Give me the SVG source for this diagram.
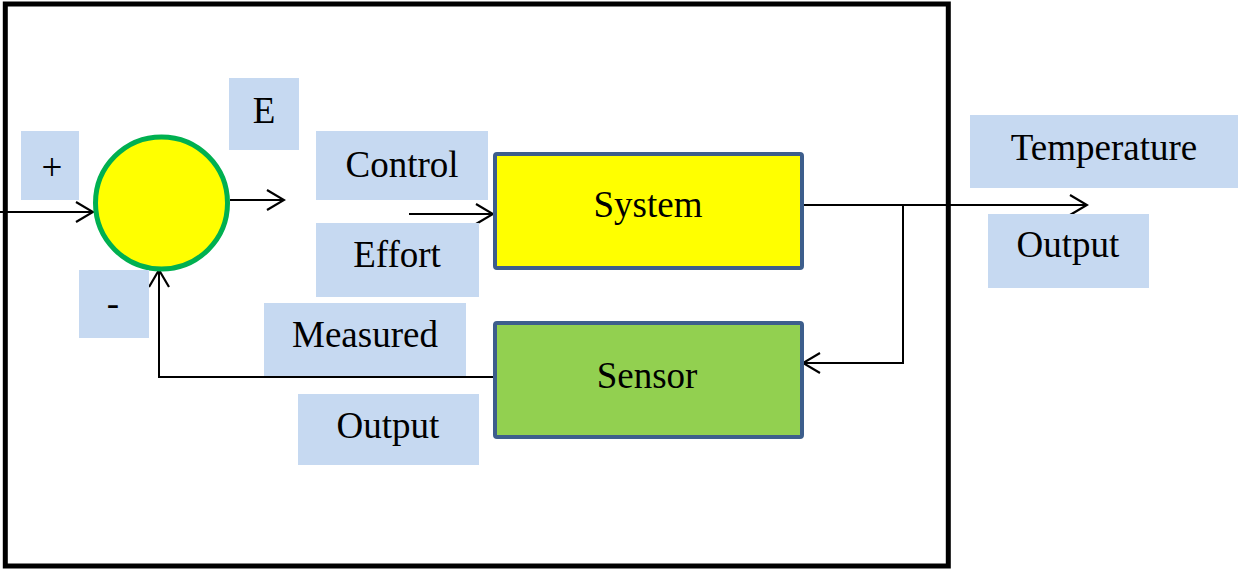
<svg xmlns="http://www.w3.org/2000/svg" width="1238" height="569" viewBox="0 0 1238 569">
  <style>
    .lbl { fill: #C6D9F1; }
    .txt { font-family: "Liberation Serif", "Times New Roman", serif; font-size: 37px; fill: #000; text-anchor: middle; }
    .block { stroke: #3D5E8C; stroke-width: 4; }
    .wire { fill: none; stroke: #000; stroke-width: 2; }
  </style>
  <defs>
    <marker id="arrow" viewBox="0 0 20 22" refX="18" refY="11" markerWidth="20" markerHeight="22" markerUnits="userSpaceOnUse" orient="auto">
      <path d="M1,1 L18,11 L1,21" fill="none" stroke="#000" stroke-width="2.2"/>
    </marker>
  </defs>

  <rect width="1238" height="569" fill="#fff"/>

  <!-- outer frame -->
  <rect id="frame" x="5.3" y="4" width="943" height="562" fill="none" stroke="#000" stroke-width="5"/>

  <!-- connectors -->
  <g id="connectors" class="wire">
    <line x1="0" y1="212" x2="93" y2="212" marker-end="url(#arrow)"/>
    <line x1="230" y1="200" x2="284" y2="200" marker-end="url(#arrow)"/>
    <line x1="409" y1="214" x2="493" y2="214" marker-end="url(#arrow)"/>
    <line x1="802" y1="205" x2="1087" y2="205" marker-end="url(#arrow)"/>
    <polyline points="903,205 903,363 803,363" marker-end="url(#arrow)"/>
    <polyline points="494,377 159,377 159,270" marker-end="url(#arrow)"/>
  </g>

  <!-- summing junction -->
  <g id="summer">
    <circle cx="161.5" cy="203" r="66" fill="#FFFF00" stroke="#00B050" stroke-width="5"/>
  </g>

  <g id="label-plus">
    <rect class="lbl" x="21" y="131" width="58" height="69"/>
    <text class="txt" x="52" y="180">+</text>
  </g>
  <g id="label-minus">
    <rect class="lbl" x="79" y="270" width="70" height="68"/>
    <text class="txt" x="113" y="316">-</text>
  </g>
  <g id="label-e">
    <rect class="lbl" x="229" y="78" width="70" height="72"/>
    <text class="txt" x="264" y="123">E</text>
  </g>

  <g id="label-control">
    <rect class="lbl" x="316" y="131" width="172" height="69"/>
    <text class="txt" x="402" y="177">Control</text>
  </g>
  <g id="label-effort">
    <rect class="lbl" x="316" y="223" width="163" height="74"/>
    <text class="txt" x="397" y="267">Effort</text>
  </g>

  <g id="system">
    <rect class="block" x="495" y="154" width="307" height="114" rx="2" fill="#FFFF00"/>
    <text class="txt" x="648" y="217">System</text>
  </g>

  <g id="sensor">
    <rect class="block" x="495" y="323" width="307" height="114" rx="2" fill="#92D050"/>
    <text class="txt" x="647" y="388">Sensor</text>
  </g>

  <g id="label-measured">
    <rect class="lbl" x="264" y="303" width="202" height="73"/>
    <text class="txt" x="365" y="347">Measured</text>
  </g>
  <g id="label-output-measured">
    <rect class="lbl" x="298" y="394" width="181" height="71"/>
    <text class="txt" x="388" y="438">Output</text>
  </g>

  <g id="label-temperature">
    <rect class="lbl" x="970" y="115" width="268" height="73"/>
    <text class="txt" x="1104" y="160">Temperature</text>
  </g>
  <g id="label-output-temp">
    <rect class="lbl" x="988" y="214" width="161" height="74"/>
    <text class="txt" x="1068" y="257">Output</text>
  </g>
</svg>
